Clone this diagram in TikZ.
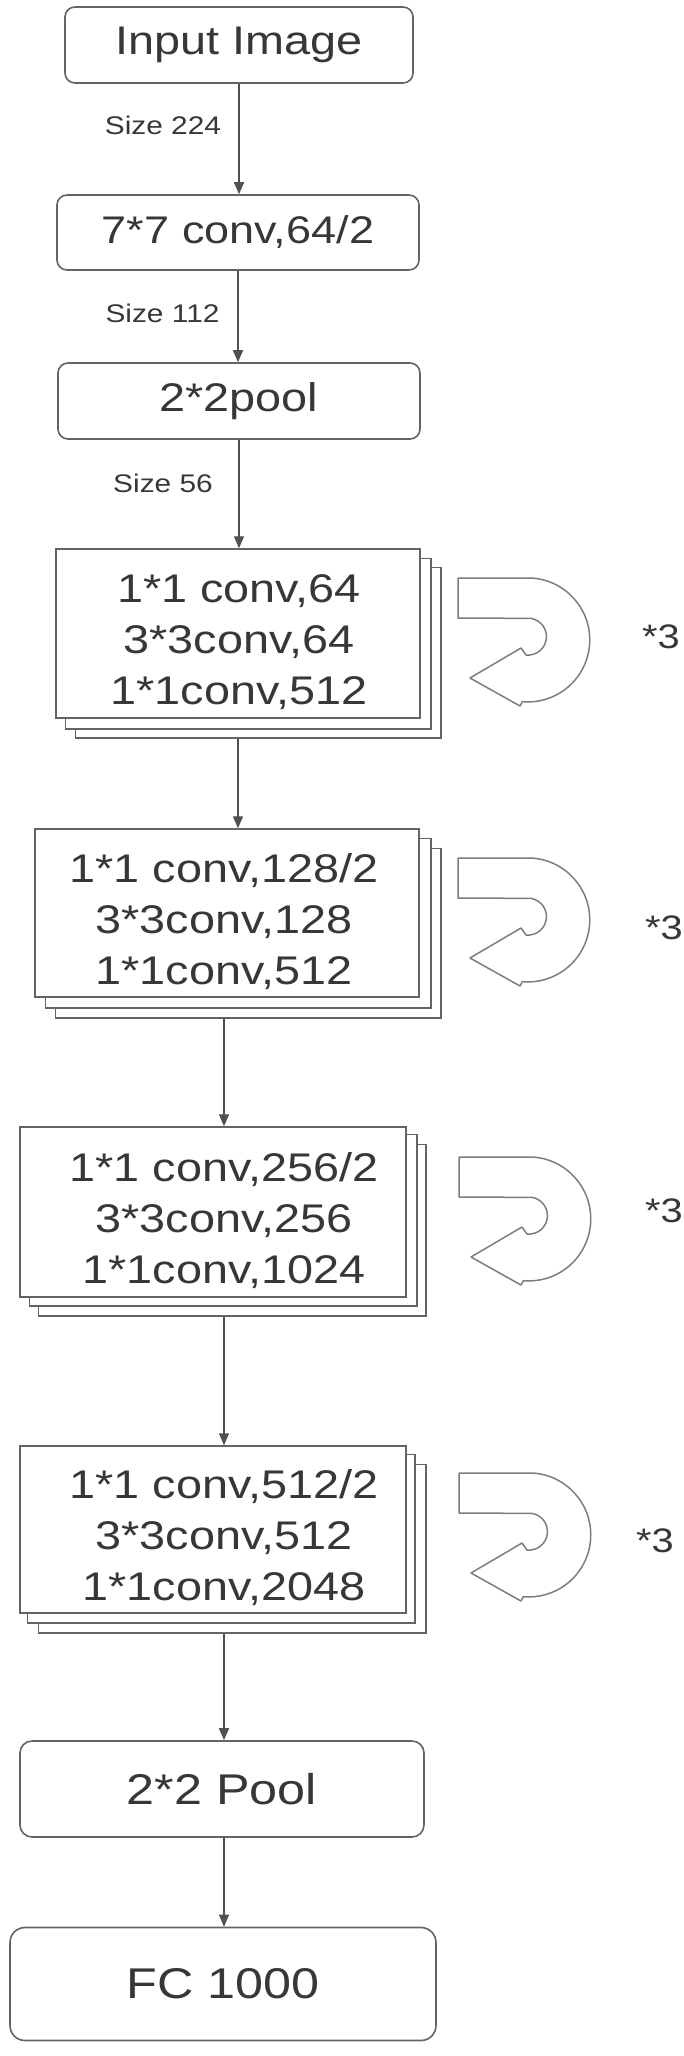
\documentclass[tikz,border=0pt]{standalone}
\usepackage{fontspec}
\setmainfont{Liberation Sans}[FakeStretch=1.17]
\usetikzlibrary{arrows.meta,calc}
\definecolor{txt}{RGB}{55,55,55}
\definecolor{edge}{RGB}{100,100,100}
\definecolor{conn}{RGB}{80,80,80}
\definecolor{uedge}{RGB}{125,125,125}
\pgfdeclarelayer{backpaper}
\pgfdeclarelayer{backzero}
\pgfdeclarelayer{backone}
\pgfsetlayers{backpaper,backzero,backone,main}
\begin{document}
\begin{tikzpicture}[x=1pt,y=-1pt,
  rbox/.style={draw=edge, line width=1.6pt, rounded corners=10pt, fill=white, text=txt, inner sep=0pt},
  sqbox/.style={draw=edge, line width=1.5pt, fill=white, inner sep=0pt},
  blktext/.style={text=txt, align=center, font=\fontsize{40}{51}\selectfont, inner sep=0pt},
  sizelbl/.style={text=txt, font=\fontsize{25.5}{30}\selectfont, inner sep=0pt},
  rep/.style={text=txt, font=\fontsize{34}{40}\selectfont, inner sep=0pt, anchor=base},
  link/.style={draw=conn, line width=1.3pt, -{Triangle[length=12pt,width=10pt]}},
  uturnstyle/.style={draw=uedge, line width=1.5pt, fill=white, line join=round},
  uturn/.pic={
    \draw[uturnstyle] (0,0) -- (73,0) arc[start angle=-87, end angle=95, radius=62]
      -- (62,128) -- (12,100) -- (63,70) -- (68,77)
      arc[start angle=96, end angle=-80, radius=18.5] -- (0,40) -- cycle;
  }
]
\useasboundingbox (0,0) rectangle (684,2056);
\begin{pgfonlayer}{backpaper}
  \fill[white] (0,0) rectangle (684,2056);
\end{pgfonlayer}

% top rounded boxes
\node[rbox, minimum width=348pt, minimum height=76pt, font=\fontsize{40}{48}\selectfont] (inp) at (239,45) {Input Image};
\node[rbox, minimum width=362pt, minimum height=75pt, font=\fontsize{38.5}{46}\selectfont] (c7) at (238,232.5) {7*7 conv,64/2};
\node[rbox, minimum width=362pt, minimum height=76pt, font=\fontsize{40}{48}\selectfont] (p1) at (239,401) {2*2pool};

% stacked blocks (front sheets)
\node[sqbox, minimum width=364pt, minimum height=169pt] (b1) at (238,633.5) {};
\node[sqbox, minimum width=384pt, minimum height=168pt] (b2) at (227,913) {};
\node[sqbox, minimum width=386pt, minimum height=170pt] (b3) at (213,1212) {};
\node[sqbox, minimum width=386pt, minimum height=167pt] (b4) at (213,1529.5) {};

% bottom rounded boxes
\node[rbox, rounded corners=12pt, minimum width=404pt, minimum height=96pt, font=\fontsize{43}{50}\selectfont] (pl2) at (222,1789) {2*2 Pool};
\node[rbox, rounded corners=15pt, minimum width=426pt, minimum height=113pt, font=\fontsize{43}{50}\selectfont] (fc) at (223,1984) {FC 1000};

\coordinate (ax) at (224,0);

% sheets behind the front boxes
\begin{pgfonlayer}{backone}
  \foreach \b/\dxa/\dya/\dxb/\dyb in {b1/10/10/20/19, b2/11/10/21/20, b3/10/8/19/18, b4/8/9/19/19}{
    \draw[sqbox] ($(\b.north west)+(\dxb,\dyb)$) rectangle ($(\b.south east)+(\dxb,\dyb)$);
    \draw[sqbox] ($(\b.north west)+(\dxa,\dya)$) rectangle ($(\b.south east)+(\dxa,\dya)$);
  }
\end{pgfonlayer}

% block texts
\node[blktext] (b1t) at ($(b1.center)+(1,8.5)$) {1*1 conv,64\\3*3conv,64\\1*1conv,512};
\node[blktext] (b2t) at ($(ax |- b2.center)+(0,8.5)$) {1*1 conv,128/2\\3*3conv,128\\1*1conv,512};
\node[blktext] (b3t) at ($(ax |- b3.center)+(0,8.5)$) {1*1 conv,256/2\\3*3conv,256\\1*1conv,1024};
\node[blktext] (b4t) at ($(ax |- b4.center)+(0,8.5)$) {1*1 conv,512/2\\3*3conv,512\\1*1conv,2048};

% size labels
\node[sizelbl] (s1) at (163,125) {Size 224};
\node[sizelbl] (s2) at (162.5,313) {Size 112};
\node[sizelbl] (s3) at (163,483) {Size 56};

% repeat arrows and labels
\pic at (458,578) {uturn};
\pic at (458,858) {uturn};
\pic at (459,1157) {uturn};
\pic at (459,1473) {uturn};
\node[rep] (r1) at (661,648) {*3};
\node[rep] (r2) at (664,939) {*3};
\node[rep] (r3) at (664,1222) {*3};
\node[rep] (r4) at (655,1552) {*3};

% connectors
\begin{pgfonlayer}{backzero}
  \draw[link] (inp.south) -- (inp.south |- c7.north);
  \draw[link] (c7.south) -- (c7.south |- p1.north);
  \draw[link] (p1.south) -- (p1.south |- b1.north);
  \draw[link] (b1.south) -- (b1.south |- b2.north);
  \draw[link] (b2.south -| ax) -- (b3.north -| ax);
  \draw[link] (b3.south -| ax) -- (b4.north -| ax);
  \draw[link] (b4.south -| ax) -- (pl2.north -| ax);
  \draw[link] (pl2.south -| ax) -- (fc.north -| ax);
\end{pgfonlayer}
\end{tikzpicture}
\end{document}
